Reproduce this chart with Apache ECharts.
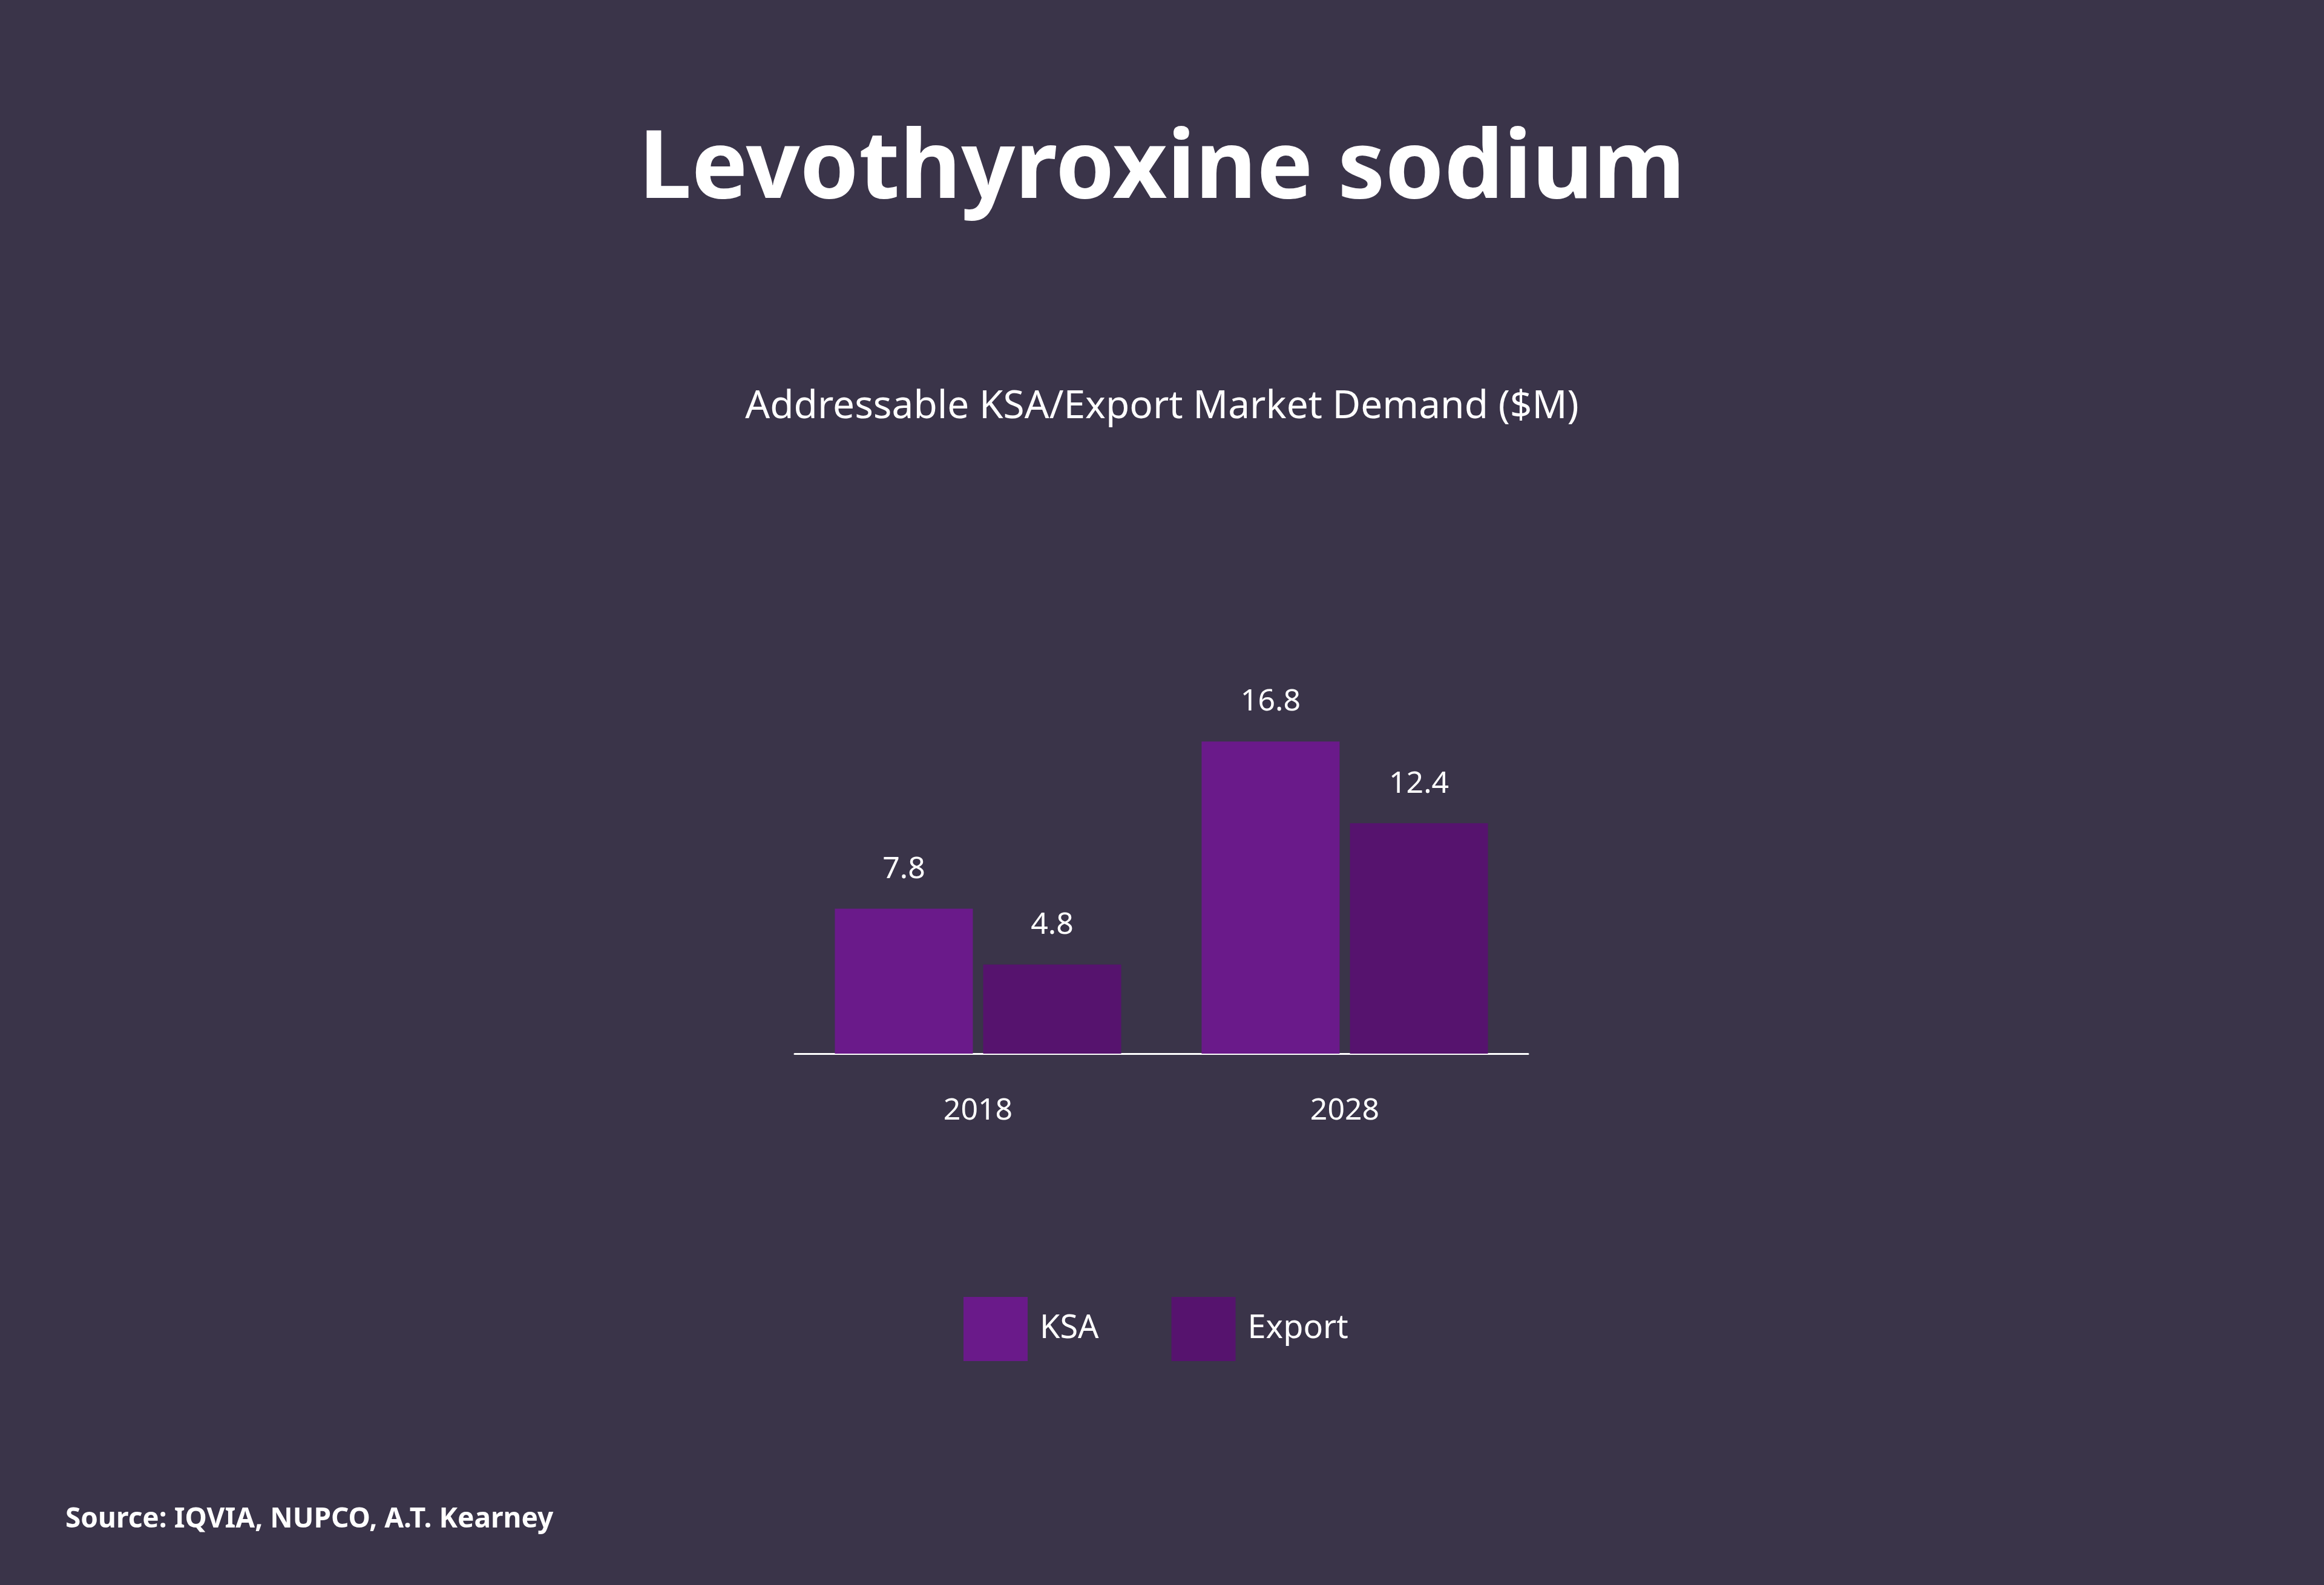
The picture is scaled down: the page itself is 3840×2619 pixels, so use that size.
<!DOCTYPE html>
<html><head><meta charset="utf-8">
<script src="https://cdn.jsdelivr.net/npm/echarts@6/dist/echarts.min.js"></script>
<style>html,body{margin:0;padding:0;background:#3a3449}#c{width:3840px;height:2619px}</style>
</head><body><div id="c"></div>
<script>
const categories = ['2018', '2028'];
const ksa = [7.8, 16.8];
const exportVals = [4.8, 12.4];
const F = 'Noto Sans';
const chart = echarts.init(document.getElementById('c'));
chart.setOption({
  backgroundColor: '#3a3449',
  title: [
    {text: 'Levothyroxine sodium', left: 'center', top: 200, textStyle: {color: '#fff', fontSize: 156, fontWeight: 'bold', fontFamily: F}},
    {text: 'Addressable KSA/Export Market Demand ($M)', left: 'center', top: 636, textStyle: {color: '#fff', fontSize: 64, fontWeight: 'normal', fontFamily: F}},
    {text: 'Source: IQVIA, NUPCO, A.T. Kearney', left: 103, top: 2483, textStyle: {color: '#fff', fontSize: 46, fontWeight: 'bold', fontFamily: F}}
  ],
  legend: {
    left: 1587, top: 2138, itemWidth: 106, itemHeight: 106, itemGap: 120,
    icon: 'rect',
    textStyle: {color: '#fff', fontSize: 54, fontFamily: F, padding: [0, 0, 0, 15]},
    data: ['KSA', 'Export']
  },
  grid: {left: 1313, width: 1212, top: 1127, height: 614},
  xAxis: {
    type: 'category', data: categories,
    axisLine: {lineStyle: {color: '#fff', width: 3}}, axisTick: {show: false},
    axisLabel: {color: '#fff', fontSize: 50, fontFamily: F, margin: 70}
  },
  yAxis: {type: 'value', min: 0, max: 20, show: false, splitLine: {show: false}},
  series: [
    {name: 'KSA', type: 'bar', data: ksa, barWidth: 228, barGap: '7.5%', itemStyle: {color: '#6a1a8a'},
     label: {show: true, position: 'top', distance: 40, color: '#fff', fontSize: 50, fontFamily: F}},
    {name: 'Export', type: 'bar', data: exportVals, barWidth: 228, itemStyle: {color: '#56136e'},
     label: {show: true, position: 'top', distance: 40, color: '#fff', fontSize: 50, fontFamily: F}}
  ]
});
</script></body></html>
